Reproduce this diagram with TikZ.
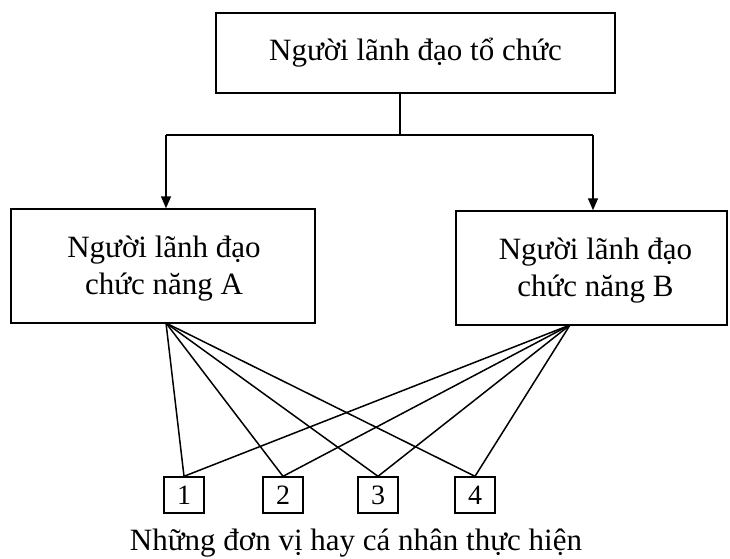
\documentclass[tikz,border=0pt]{standalone}
\usepackage{fontspec}
\setmainfont{Liberation Serif}
\usetikzlibrary{arrows.meta}
\begin{document}
\begin{tikzpicture}[x=1pt,y=-1pt,
  box/.style={draw,line width=1.5pt,inner sep=0pt},
  txt/.style={font=\fontsize{31}{37}\selectfont,align=center},
  unitbox/.style={draw,line width=1.4pt,minimum width=40pt,minimum height=36pt,inner sep=0pt,font=\fontsize{28}{28}\selectfont},
  link/.style={line width=1.5pt},
  arr/.style={line width=1.5pt,-{Triangle[length=12pt,width=10pt]}}]
\useasboundingbox (0,0) rectangle (730,558);
% boxes
\node[box,minimum width=399pt,minimum height=80pt] (top) at (415.5,53) {};
\node[txt] at (top.center) {Người lãnh đạo tổ chức};
\node[box,minimum width=304pt,minimum height=114pt] (A) at (163,266) {};
\node[txt] at ([xshift=1pt,yshift=-3pt]A.center) {Người lãnh đạo\\chức năng A};
\node[box,minimum width=271pt,minimum height=114pt] (B) at (591.5,268) {};
\node[txt] at ([xshift=4pt,yshift=-3pt]B.center) {Người lãnh đạo\\chức năng B};
% units
\node[unitbox] (u1) at (184,495) {1};
\node[unitbox] (u2) at (283,495) {2};
\node[unitbox] (u3) at (378,495) {3};
\node[unitbox] (u4) at (475,495) {4};
\node[txt,anchor=base] (cap) at (356,550) {Những đơn vị hay cá nhân thực hiện};
% tree connectors
\coordinate (j) at (400,135);
\coordinate (jl) at (166,135);
\coordinate (jr) at (593,135);
\draw[link] (top.south -| j) -- (j);
\draw[link] (jl) -- (jr);
\draw[arr] (jl) -- (jl |- A.north);
\draw[arr] (jr) -- (jr |- B.north);
% links to units
\coordinate (a) at (166,323);
\coordinate (b) at (570,325);
\foreach \u in {u1,u2,u3,u4}{
  \draw[link] (a) -- (\u.north);
  \draw[link] (b) -- (\u.north);
}
\end{tikzpicture}
\end{document}
